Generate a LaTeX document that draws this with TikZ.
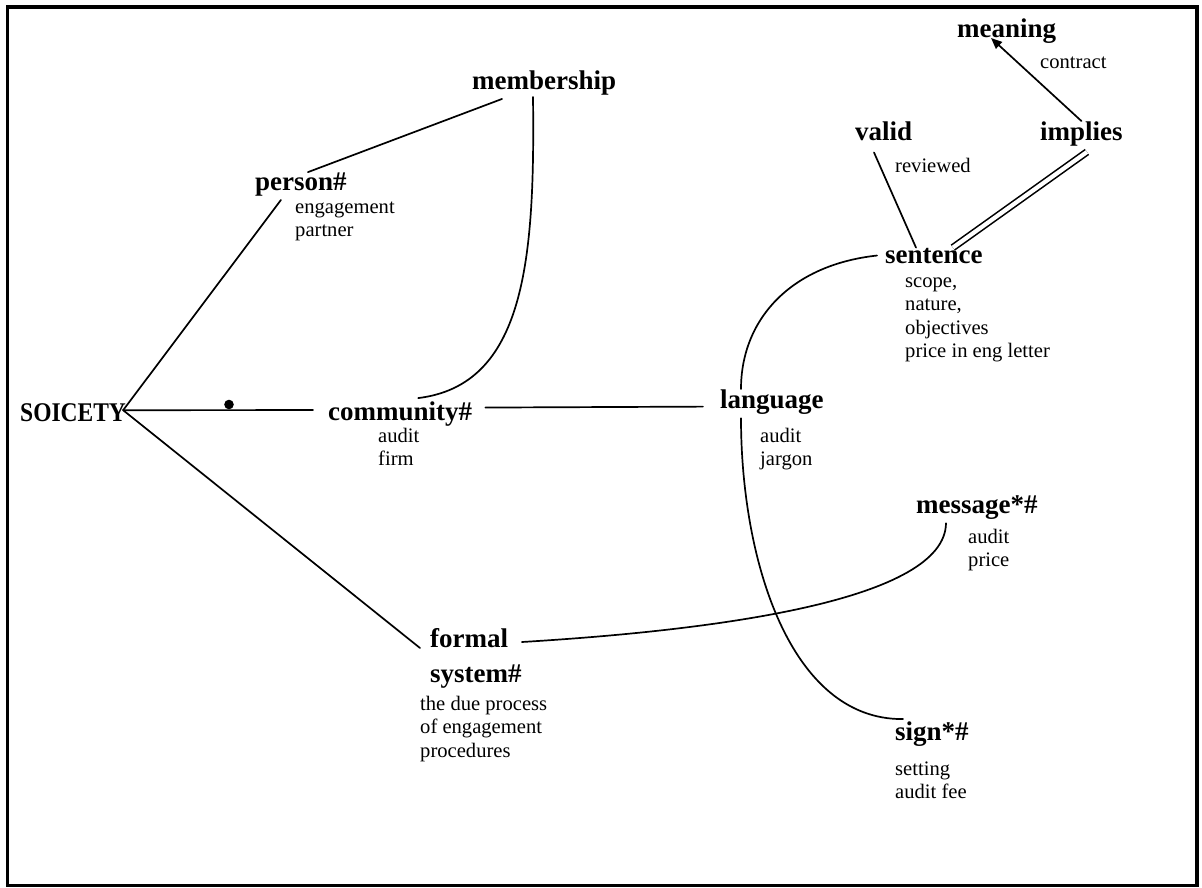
\documentclass[tikz,border=0pt]{standalone}
\usepackage{fontspec}
\setmainfont{Liberation Serif}
\usepackage{graphicx}
\usetikzlibrary{arrows.meta}
\newcommand{\notelines}[1]{\begin{tabular}[t]{@{}l@{}}#1\end{tabular}}
\begin{document}
\begin{tikzpicture}[x=1pt,y=-1pt,
  term/.style={font=\fontsize{27}{32}\selectfont\bfseries, inner sep=0pt, anchor=base west},
  note/.style={font=\fontsize{20.6}{23.6}\selectfont, inner sep=0pt, anchor=base west},
  link/.style={line width=1.7pt, line cap=round},
  dotmark/.style={circle, fill=black, inner sep=0pt, minimum size=9.6pt}]
\useasboundingbox (0,0) rectangle (1202,887);
\draw[line width=3.5pt] (7.5,7) rectangle (1197,885.5);

% terms
\node[term] (soc) at (20,421) {\scalebox{0.87}[1]{SOICETY}};
\node[term] (person) at (255,190) {person\#};
\node[term] (membership) at (472,89) {membership};
\node[term] (community) at (328,420) {community\#};
\node[term] (language) at (720,408) {language};
\node[term] (sentence) at (885,263) {sentence};
\node[term] (valid) at (855,140) {valid};
\node[term] (implies) at (1040,140) {implies};
\node[term] (meaning) at (957,37) {meaning};
\node[term] (message) at (916,513) {message*\#};
\node[term, font=\fontsize{27}{35}\selectfont\bfseries] (formal) at (430,647) {\notelines{formal\\system\#}};
\node[term] (sign) at (895,740) {sign*\#};

% notes
\node[note] (personnote) at (295,213) {\notelines{engagement\\partner}};
\node[note] (communitynote) at (378,442) {\notelines{audit\\firm}};
\node[note] (languagenote) at (760,442) {\notelines{audit\\jargon}};
\node[note] (sentencenote) at (905,287) {\notelines{scope,\\nature,\\objectives\\price in eng letter}};
\node[note] (validnote) at (895,172) {reviewed};
\node[note] (contractnote) at (1040,68) {contract};
\node[note] (messagenote) at (968,543) {\notelines{audit\\price}};
\node[note] (formalnote) at (420,710) {\notelines{the due process\\of engagement\\procedures}};
\node[note] (signnote) at (895,775) {\notelines{setting\\audit fee}};

% connectors
\coordinate (hub) at ([xshift=-3pt,yshift=2pt]soc.east);
\draw[link] (hub) -- ([xshift=-20pt,yshift=-4pt]person.south);
\draw[link] (hub) -- ([xshift=-15pt,yshift=3.5pt]community.west);
\draw[link] (hub) -- ([xshift=-10pt,yshift=-1pt]formal.base west);
\node[dotmark] (dot) at (229,404.5) {};

\draw[link] ([xshift=7pt]person.north) -- ([xshift=30pt,yshift=-4pt]membership.south west);
\draw[link] ([xshift=61pt,yshift=-2pt]membership.south west) .. controls (535,260) and (525,385) .. ([xshift=18pt,yshift=3pt]community.north);
\draw[link] ([xshift=13pt,yshift=6pt]community.east) -- ([xshift=-17pt,yshift=-5pt]language.west);
\draw[link] ([xshift=-8pt]sentence.west) .. controls (790,265) and (741,320) .. ([xshift=21pt]language.north west);
\draw[link] ([xshift=21pt,yshift=-4pt]language.south west) .. controls (741,560) and (790,720) .. ([xshift=8pt,yshift=2pt]sign.north west);
\draw[link] ([xshift=30pt,yshift=-4pt]message.south west) .. controls (945,600) and (720,630) .. ([yshift=5pt]formal.base east);
\draw[link] ([xshift=19pt,yshift=-12pt]valid.south west) -- ([xshift=31pt]sentence.north west);
\draw[line width=1.6pt, double, double distance=4.2pt] ([xshift=5.5pt,yshift=-6pt]implies.south) -- ([xshift=-30pt]sentence.north east);
\draw[link, -{Triangle[length=11pt,width=9pt]}] (implies.north) -- ([xshift=34pt,yshift=-1pt]meaning.base west);
\end{tikzpicture}
\end{document}
